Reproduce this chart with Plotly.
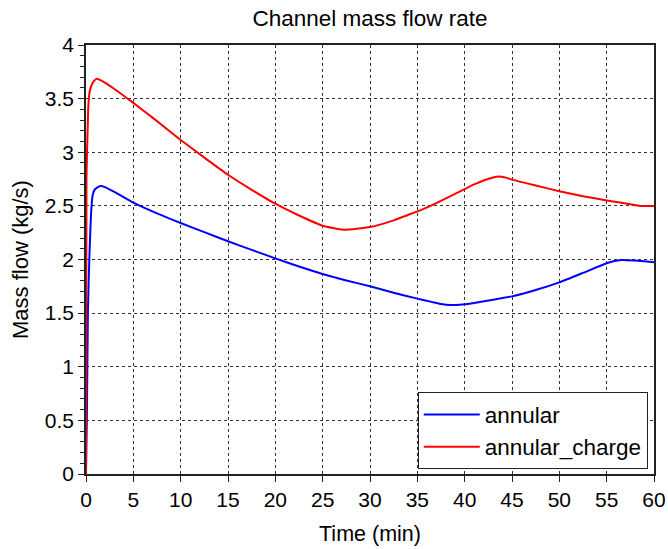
import plotly.graph_objects as go

# Data
t_annular = [0, 0.1, 0.2, 0.35, 0.45, 0.55, 0.7, 0.95, 1.5, 2, 3, 5, 7.5, 10, 12.5, 15,
             17.5, 20, 22.5, 25, 27.5, 30, 32.5, 35, 36.5, 37.5, 38.5, 39.5, 41, 42.5,
             45, 47.5, 50, 52.5, 55, 56.5, 58, 60]
annular = [0, 0.6, 1.5, 2.0, 2.25, 2.45, 2.6, 2.655, 2.685, 2.675, 2.63, 2.53, 2.43, 2.34,
           2.255, 2.17, 2.09, 2.01, 1.935, 1.865, 1.805, 1.75, 1.69, 1.635, 1.605, 1.585,
           1.575, 1.578, 1.595, 1.617, 1.656, 1.715, 1.787, 1.875, 1.965, 1.995, 1.99,
           1.975]

t_charge = [0, 0.05, 0.2, 0.25, 0.42, 0.7, 1.13, 2, 3, 5, 7.5, 10, 12.5, 15, 17.5, 20,
            22.5, 25, 27.2, 30, 32.5, 34, 35.5, 37, 38.5, 40, 41, 42, 43, 43.6, 44.3,
            45, 47.5, 50, 52.5, 55, 57.5, 58.5, 60]
annular_charge = [0, 2.76, 3.3, 3.44, 3.58, 3.645, 3.685, 3.65, 3.59, 3.46, 3.29, 3.115,
                  2.95, 2.79, 2.65, 2.52, 2.41, 2.315, 2.278, 2.303, 2.365, 2.415, 2.465,
                  2.525, 2.59, 2.657, 2.70, 2.737, 2.765, 2.775, 2.765, 2.745, 2.69,
                  2.637, 2.59, 2.551, 2.515, 2.50, 2.50]

x_ticks = list(range(0, 61, 5))
y_ticks = [0, 0.5, 1, 1.5, 2, 2.5, 3, 3.5, 4]
y_tick_labels = ["0", "0.5", "1", "1.5", "2", "2.5", "3", "3.5", "4"]

FONT = "Liberation Sans, Arial, sans-serif"

fig = go.Figure()
fig.add_trace(go.Scatter(x=t_annular, y=annular, mode="lines", name="annular",
                         line=dict(color="#0000FF", width=2, shape="spline", smoothing=0.5)))
fig.add_trace(go.Scatter(x=t_charge, y=annular_charge, mode="lines", name="annular_charge",
                         line=dict(color="#FF0000", width=2, shape="spline", smoothing=0.5)))

axis_common = dict(
    showline=True, linecolor="#222222", linewidth=1.5, mirror=True,
    showgrid=True, gridcolor="#333333", griddash="dot", gridwidth=1,
    ticks="outside", ticklen=6, tickcolor="#222222", tickwidth=1,
    tickfont=dict(family=FONT, size=21, color="black"),
    zeroline=False, automargin=False,
)

fig.update_xaxes(
    range=[0, 60], tickmode="array", tickvals=x_ticks,
    title=dict(text="Time (min)", font=dict(family=FONT, size=21.5, color="black"), standoff=16),
    **axis_common,
)
fig.update_yaxes(
    range=[0, 4], tickmode="array", tickvals=y_ticks, ticktext=y_tick_labels,
    minor=dict(ticks="outside", ticklen=4, tickcolor="#222222", dtick=0.1, showgrid=False),
    title=dict(text="Mass flow (kg/s)", font=dict(family=FONT, size=22, color="black"), standoff=10),
    **axis_common,
)

fig.update_layout(
    width=668, height=549,
    margin=dict(l=86, r=14, t=45, b=75, autoexpand=False),
    paper_bgcolor="white", plot_bgcolor="white",
    title=dict(text="Channel mass flow rate", x=0.5, xref="paper", xanchor="center",
               y=0.967, yref="container", yanchor="middle",
               font=dict(family=FONT, size=22.5, color="black")),
    legend=dict(x=0.989, y=0.011, xanchor="right", yanchor="bottom",
                bgcolor="white", bordercolor="#222222", borderwidth=1,
                itemwidth=56,
                font=dict(family=FONT, size=22.5, color="black")),
    showlegend=True,
)

fig.write_html("out.html")
